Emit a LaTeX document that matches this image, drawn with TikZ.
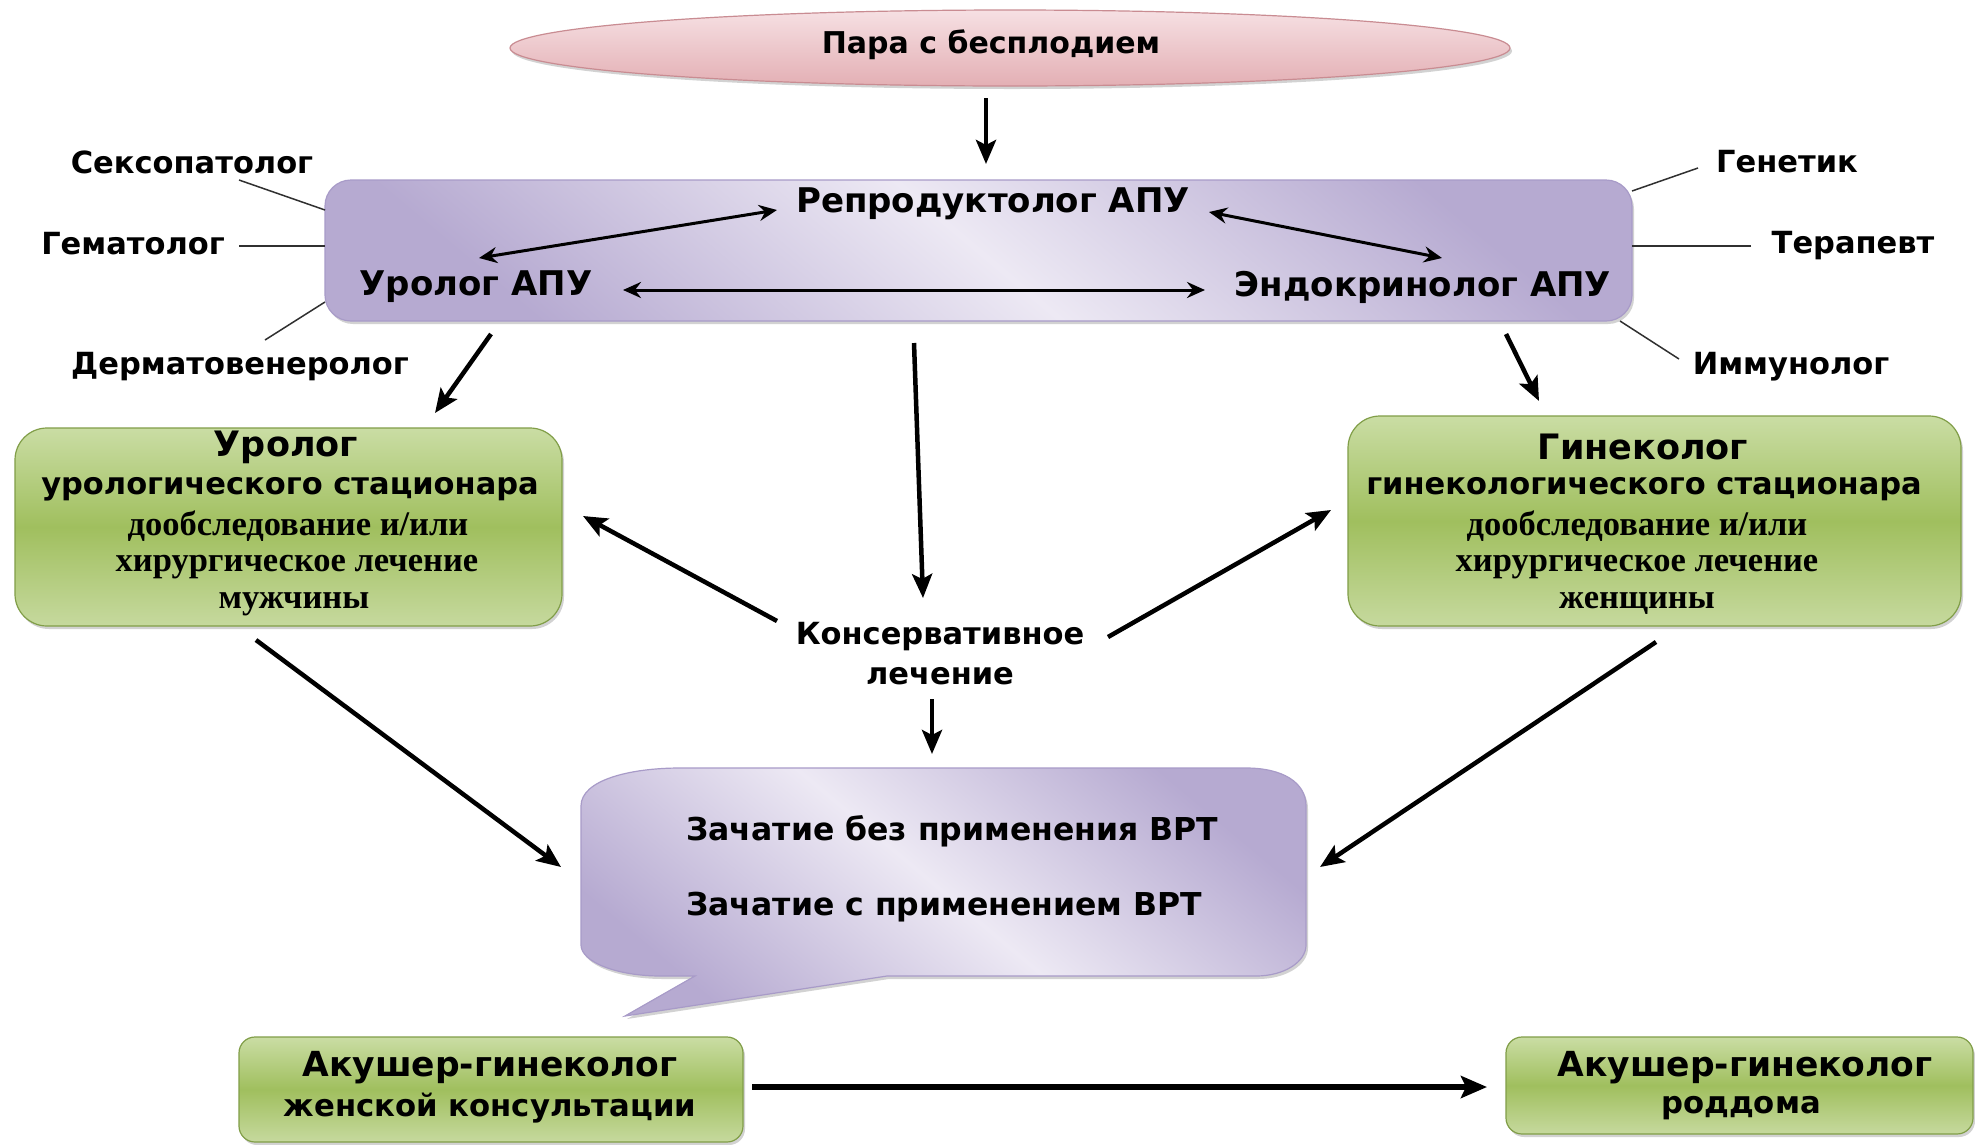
\documentclass[tikz,border=0pt]{standalone}
\usepackage{fontspec}
\setmainfont{DejaVu Sans}
\newfontfamily\serifb{Liberation Serif}
\usetikzlibrary{arrows.meta,shadows,shapes.geometric}
\definecolor{grnT}{HTML}{CADDA4}
\definecolor{grnM}{HTML}{A0BF5E}
\definecolor{grnB}{HTML}{C6D99E}
\definecolor{grnD}{HTML}{819E48}
\definecolor{lavL}{HTML}{EDE9F4}
\definecolor{lavD}{HTML}{B6AAD1}
\definecolor{lavE}{HTML}{A89BC8}
\definecolor{pnkL}{HTML}{F6E0E3}
\definecolor{pnkD}{HTML}{E3AFB4}
\definecolor{pnkE}{HTML}{C98C92}
\definecolor{lineG}{HTML}{303030}
\tikzset{
  shd/.style={drop shadow={opacity=0.35,shadow xshift=2pt,shadow yshift=-3pt}},
  gbox/.style={draw=grnD,line width=1.2pt,rounded corners=32pt,top color=grnT,bottom color=grnB,middle color=grnM,shd,inner sep=0pt},
  gboxs/.style={gbox,rounded corners=16pt},
  lavfill/.style={top color=lavD,bottom color=lavD,middle color=lavL,shading angle=-40},
  lbox/.style={draw=lavE,line width=1.2pt,rounded corners=26pt,lavfill,shd,inner sep=0pt},
  pell/.style={ellipse,draw=pnkE,line width=1.2pt,top color=pnkL,bottom color=pnkD,shd,inner sep=0pt},
  side/.style={inner sep=0pt,font=\fontsize{30.5}{36}\selectfont\bfseries},
  apu/.style={inner sep=0pt,font=\fontsize{34}{40}\selectfont\bfseries},
  ttl/.style={inner sep=0pt,font=\fontsize{35}{40}\selectfont\bfseries},
  sub/.style={inner sep=0pt,font=\fontsize{30.5}{36}\selectfont\bfseries},
  srf/.style={inner sep=0pt,text height=24pt,text depth=8pt,font=\fontsize{34.5}{40}\serifb\selectfont\bfseries},
  txt/.style={inner sep=0pt,font=\fontsize{30}{36}\selectfont\bfseries},
  btxt/.style={inner sep=0pt,font=\fontsize{31.5}{38}\selectfont\bfseries},
  arr/.style={line width=4.5pt,-{Stealth[length=24pt,width=20pt,inset=5pt]}},
  arrb/.style={line width=6pt,-{Stealth[length=26pt,width=22pt,inset=5pt]}},
  dbl/.style={line width=3pt,{Stealth[length=18pt,width=16pt,inset=6pt]}-{Stealth[length=18pt,width=16pt,inset=6pt]}},
  thin/.style={line width=1.5pt,draw=lineG}
}
\begin{document}
\begin{tikzpicture}[x=1pt,y=-1pt]
\useasboundingbox[fill=white] (0,0) rectangle (1975,1144);

% top ellipse
\node[pell,minimum width=1000pt,minimum height=76pt] (pair) at (1010,48) {};
\node[txt] (pairT) at (991,45) {Пара с бесплодием};

% APU box
\node[lbox,minimum width=1307pt,minimum height=141pt] (apubox) at (978.5,250.5) {};
\node[apu] (rep) at (993,204) {Репродуктолог АПУ};
\node[apu] (uro) at (476,287) {Уролог АПУ};
\node[apu] (endo) at (1423,287) {Эндокринолог АПУ};

% side specialists
\node[side] (sex) at (192,162) {Сексопатолог};
\node[side] (gem) at (133,244) {Гематолог};
\node[side] (derm) at (240,367) {Дерматовенеролог};
\node[side] (gen) at (1787,162) {Генетик};
\node[side] (ter) at (1853,246) {Терапевт};
\node[side] (imm) at (1791,367) {Иммунолог};

\coordinate (l1a) at (239,180); \coordinate (l1b) at (325,210);
\coordinate (l2a) at (239,246); \coordinate (l2b) at (325,246);
\coordinate (l3a) at (265,340); \coordinate (l3b) at (325,302);
\coordinate (r1a) at (1698,168); \coordinate (r1b) at (1632,191);
\coordinate (r2a) at (1751,246); \coordinate (r2b) at (1632,246);
\coordinate (r3a) at (1679,359); \coordinate (r3b) at (1620,321);
\draw[thin] (l1a) -- (l1b);
\draw[thin] (l2a) -- (l2b);
\draw[thin] (l3a) -- (l3b);
\draw[thin] (r1a) -- (r1b);
\draw[thin] (r2a) -- (r2b);
\draw[thin] (r3a) -- (r3b);

% green boxes
\node[gbox,minimum width=547pt,minimum height=198pt] (ustat) at (288.5,527) {};
\node[ttl] (ustat1) at (286,447) {Уролог};
\node[sub] (ustat2) at (290,489) {урологического стационара};
\node[srf] (ustat3) at (298,527) {дообследование и/или};
\node[srf] (ustat4) at (297,563) {хирургическое лечение};
\node[srf] (ustat5) at (294,600) {мужчины};

\node[gbox,minimum width=613pt,minimum height=210pt] (gstat) at (1654.5,521) {};
\node[ttl] (gstat1) at (1643,447) {Гинеколог};
\node[sub] (gstat2) at (1644,489) {гинекологического стационара};
\node[srf] (gstat3) at (1637,527) {дообследование и/или};
\node[srf] (gstat4) at (1637,563) {хирургическое лечение};
\node[srf] (gstat5) at (1637,600) {женщины};

% conservative
\node[txt,font=\fontsize{30.5}{36}\selectfont\bfseries] (kons1) at (940,637) {Консервативное};
\node[txt,font=\fontsize{30.5}{36}\selectfont\bfseries] (kons2) at (940,676) {лечение};

% bubble
\path[draw=lavE,line width=1.2pt,lavfill,shd]
  (581,806) .. controls (581,780) and (630,768) .. (680,768) -- (1246,768)
  .. controls (1282,768) and (1306,782) .. (1306,806) -- (1306,945)
  .. controls (1306,962) and (1284,976) .. (1256,976) -- (887,976)
  -- (625,1016) -- (695,976) -- (661,976)
  .. controls (617,976) and (581,962) .. (581,945) -- cycle;
\node[btxt,anchor=west] (bub1) at (686,831) {Зачатие без применения ВРТ};
\node[btxt,anchor=west] (bub2) at (686,907) {Зачатие с применением ВРТ};

% bottom boxes
\node[gboxs,minimum width=504pt,minimum height=105pt] (akw) at (491,1089.5) {};
\node[apu,font=\fontsize{34.5}{40}\selectfont\bfseries] (akw1) at (490,1068) {Акушер-гинеколог};
\node[apu,font=\fontsize{30.7}{36}\selectfont\bfseries] (akw2) at (490,1108) {женской консультации};
\node[gboxs,minimum width=467pt,minimum height=97pt] (akr) at (1739.5,1085.5) {};
\node[apu,font=\fontsize{34.5}{40}\selectfont\bfseries] (akr1) at (1745,1068) {Акушер-гинеколог};
\node[apu,font=\fontsize{30.7}{36}\selectfont\bfseries] (akr2) at (1741,1108) {роддома};

% arrow endpoints
\coordinate (a0s) at (986,98);   \coordinate (a0e) at (986,164);
\coordinate (a1s) at (491,334);  \coordinate (a1e) at (435,413);
\coordinate (a2s) at (1506,334); \coordinate (a2e) at (1539,401);
\coordinate (a3s) at (914,343);  \coordinate (a3e) at (923,598);
\coordinate (a4s) at (777,621);  \coordinate (a4e) at (583,516);
\coordinate (a5s) at (1108,637); \coordinate (a5e) at (1331,510);
\coordinate (a6s) at (932,699);  \coordinate (a6e) at (932,754);
\coordinate (a7s) at (256,640);  \coordinate (a7e) at (561,867);
\coordinate (a8s) at (1656,642); \coordinate (a8e) at (1320,867);
\coordinate (a9s) at (752,1087); \coordinate (a9e) at (1487,1087);
\coordinate (d1s) at (479,258);  \coordinate (d1e) at (777,210);
\coordinate (d2s) at (1209,212); \coordinate (d2e) at (1442,258);
\coordinate (d3s) at (623,290);  \coordinate (d3e) at (1205,290);

\draw[arr] (a0s) -- (a0e);
\draw[arr] (a1s) -- (a1e);
\draw[arr] (a2s) -- (a2e);
\draw[arr] (a3s) -- (a3e);
\draw[arr] (a4s) -- (a4e);
\draw[arr] (a5s) -- (a5e);
\draw[arr] (a6s) -- (a6e);
\draw[arr] (a7s) -- (a7e);
\draw[arr] (a8s) -- (a8e);
\draw[arrb] (a9s) -- (a9e);
\draw[dbl] (d1s) -- (d1e);
\draw[dbl] (d2s) -- (d2e);
\draw[dbl] (d3s) -- (d3e);
\end{tikzpicture}
\end{document}
